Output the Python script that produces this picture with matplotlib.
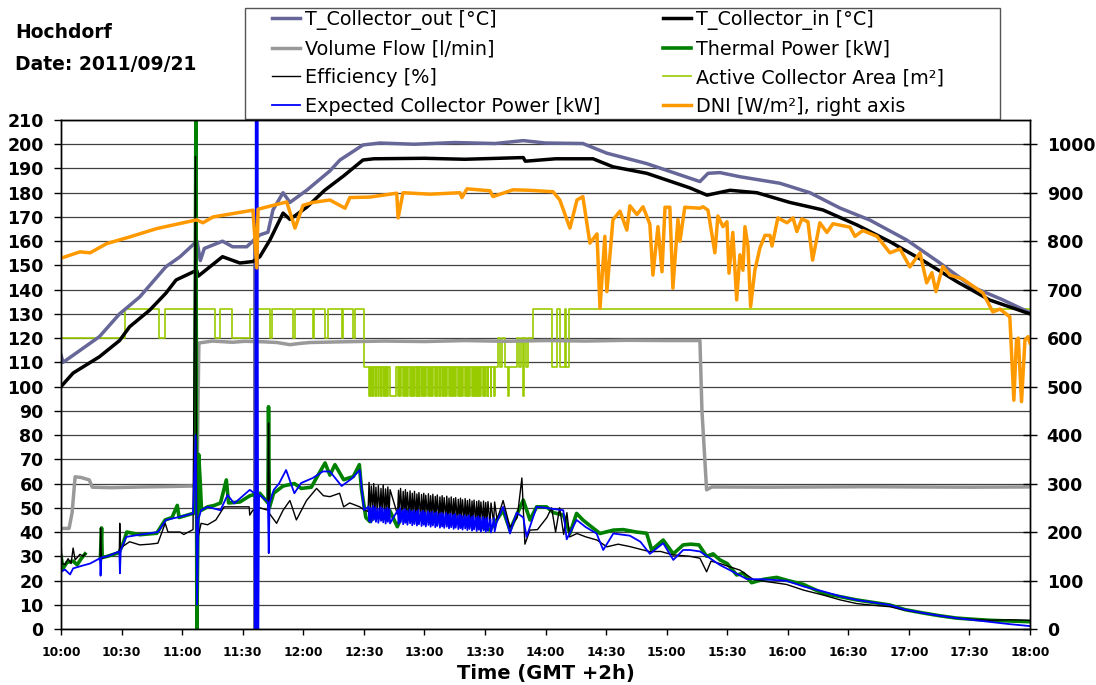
import numpy as np
import matplotlib
matplotlib.use("Agg")
import matplotlib.pyplot as plt
from matplotlib.patches import Rectangle

# ---------------- data (time = minutes after 10:00) ----------------
tout_t = [0, 1, 19, 29, 39, 52, 59, 66, 67.4, 69, 71, 80, 85, 92, 95, 96, 96.2, 96.5, 98.5, 102.5,
          105, 110, 113.4, 121.7, 133.2, 138.2, 149.6, 158, 175, 195, 215, 229, 240, 258.5, 270.4, 290.2,
          311.5, 316.5, 320.5, 326.4, 336.3, 356.1, 371, 385.8, 400.7, 418.9, 435.4, 451.7, 466, 480]
tout_v = [113, 110, 120.6, 130, 137, 149.5, 153.6, 159, 160, 152, 157, 160, 157.7, 157.7, 160, 161, 0, 161, 162.6, 163.7,
          172.9, 180, 176, 181, 189, 193.5, 199.7, 200.5, 200, 200.7, 200.3, 201.5, 200.5, 200.3, 196.3, 192,
          186, 184.6, 188, 188.3, 186.6, 183.9, 180, 173.7, 168.7, 160.5, 151, 141, 136, 130.5]

tin_t = [0, 6, 19, 29, 34, 44, 52, 57, 67.2, 68, 80, 88.6, 95, 98.5, 103.5, 110, 113.4, 121.7, 130.6, 140.1,
         149.6, 155, 180, 200, 229, 230, 245, 263.5, 273.4, 290.2, 311.5, 320, 331.4, 344.7, 361, 377.4,
         394.3, 410.6, 427, 443.8, 460.1, 480]
tin_v = [100, 105.6, 112.3, 119, 124.7, 131.6, 138.6, 144, 148, 145.6, 153.6, 151, 151.6, 153.6, 160.5, 171.6, 169, 174, 181, 187,
         193.5, 194, 194.2, 193.8, 194.5, 193, 194, 194, 190.7, 188, 182, 179, 181, 180, 176, 172.9,
         166.7, 159.8, 152, 143.3, 135.7, 130]

vf_t = [0, 4, 5.5, 7, 10, 14, 15.5, 25, 40, 55, 65.4, 67.4, 68, 68.3, 75, 85, 91, 100, 107, 113.4,
        118, 123.3, 140, 160, 180, 200, 220, 240, 260, 280, 300, 316.5, 317.5, 319.8, 322.4, 350, 400, 450, 480]
vf_v = [41.5, 41.5, 48, 62.8, 62.5, 61.5, 58.5, 58.3, 58.6, 58.8, 59, 60, 100, 118, 118.8, 118.3, 118.7, 118.5, 118.2, 117.3,
        117.8, 118.2, 118.5, 118.8, 118.6, 119, 118.7, 119, 118.8, 119.1, 119, 119, 90, 57.4, 58.6, 58.5, 58.7, 58.5, 58.6]

dni_t = [0, 9.4, 14.4, 22.6, 34.2, 47.4, 67.2, 70.3, 75.3, 95.1,
         97, 97.6, 111.8, 115.9, 119.9, 124.8, 133.2, 140.7, 143.1, 153,
         166.3, 167, 169.4, 182.8, 197.6, 198.6, 201.1, 212.5, 214, 223.9,
         232.3, 243.7, 247.1, 252.1, 255.6, 258.5, 262, 265.5, 267, 269.4,
         270.4, 273.4, 276.9, 280.3, 281.8, 285.3, 288.3, 291.7, 293.2, 295.7,
         297.7, 299.2, 301.6, 303.1, 305.6, 306.6, 309, 316.5, 318, 320.5,
         323.9, 325.4, 327.9, 329.9, 330.9, 332.8, 334.7, 336.3, 337.8, 338.8,
         340.3, 341.6, 343.7, 346.2, 348.7, 351.2, 352.2, 355.1, 359.6, 362.6,
         364.5, 367, 370, 372.3, 375.9, 379.4, 382.4, 390.8, 393.3, 397.2,
         404.2, 410.6, 415.6, 420.5, 425.5, 428.8, 431.4, 433.4, 436.8, 440.3,
         446.7, 456.7, 461.6, 465.1, 470, 472, 473.3, 474.2, 475.8, 477.5,
         479, 480]
dni_v = [765, 778, 776, 795, 809, 826, 844, 838, 850, 864,
         745, 866, 881, 827, 874, 880, 885, 868, 890, 891,
         899, 848, 900, 897, 900, 890, 908, 904, 892, 906,
         905, 902, 885, 827, 885, 892, 796, 815, 662, 810,
         696, 844, 862, 823, 873, 855, 871, 835, 730, 830,
         737, 870, 870, 703, 845, 800, 870, 868, 871, 864,
         776, 852, 830, 840, 734, 818, 679, 772, 740, 830,
         790, 665, 740, 786, 812, 812, 790, 848, 838, 848,
         820, 846, 840, 761, 838, 818, 836, 829, 810, 822,
         810, 776, 784, 747, 776, 714, 735, 696, 748, 730,
         722, 693, 654, 660, 644, 472, 596, 600, 469, 596,
         603, 590]

# active collector area: change points (steps-post)
area_pre_t = [0, 31.7, 48.7, 51.5, 76.3, 78.8, 84.5, 93.6, 103.5, 104.4, 114.9, 115.9, 124.7, 125.3,
              130.8, 132.2, 139, 139.7, 144.5, 145.6, 150.2]
area_pre_v = [120, 132, 120, 132, 120, 132, 120, 132, 120, 132, 120, 132, 120, 132,
              120, 132, 120, 132, 120, 132, 108]
# minutes at which area briefly drops to 96 m² (12:30-13:35 switching)
pulse_t = [152.4, 153.5, 154.7, 155.8, 157.0, 158.3, 159.4, 160.6, 161.7, 162.8,
           167.0, 168.0, 169.3, 170.4, 171.4, 172.7, 173.8, 174.9, 176.1, 177.1,
           178.4, 179.5, 180.5, 181.8, 182.9, 184.0, 185.2, 186.2, 187.5, 188.6,
           189.6, 190.9, 192.0, 193.1, 194.3, 195.3, 196.6, 197.7, 198.7, 200.0,
           201.1, 202.2, 203.4, 204.4, 205.7, 206.8, 207.8, 209.1, 210.2, 211.3,
           212.8, 214.6]
pulse_len = [0.45] * 9 + [3.0] + [0.45] * 42
area_post_t = [215.8, 216.4, 217.4, 218.4, 219.9, 221.4, 221.9, 225.7, 226.8, 227.8, 228.8, 229.3,
               230.3, 231.3, 233.9, 243, 245.5, 247.1, 249.6, 250.1, 251.8, 480]
area_post_v = [108, 120, 108, 120, 108, 96, 108, 120, 108, 120, 96, 120,
               108, 120, 132, 108, 132, 108, 132, 108, 132, 132]

# thermal power [kW]
tp_t = [0, 1, 3, 6, 8, 10, 11.9, 15, 19.5, 20.1, 20.4, 23, 28.7, 30.5, 32.6, 39, 47.4, 51.6, 55, 57.6,
        58.5, 65.4, 66.2, 66.8, 67.3, 68.2, 69, 69.6, 72.6, 76, 79, 81.9, 83, 88.6, 93.6, 95.8, 98.5, 102.5,
        102.8, 103.2, 105.3, 110, 115.6, 119, 124, 127, 130.8, 133.2, 135.7, 140, 144.8, 147.8, 148.8, 151,
        153, 156, 159, 162.8, 166.6, 169, 172, 176, 181.9, 186, 190, 194, 198.4, 203, 207, 212.5,
        219, 222.4, 229, 232.3, 235.6, 240.5, 244, 248.8, 252.1, 255.4, 258.5, 263.6, 267, 273.6, 278.5,
        285, 290.1, 292.6, 298.3, 303.3, 308.2, 312, 316, 319.8, 323, 326.4, 330, 334.7, 338, 342.1,
        348, 354.5, 360, 367.7, 377.6, 385, 394.1, 402, 410.6, 418, 427.1, 435, 443.6, 452, 460.1, 470, 480]
tp_v = [30, 25, 27.5, 28, 26.5, 29, 31, np.nan, 29, 41.7, 29.5, 30, 31.5, 34.7, 40, 38.9, 39.5, 45, 46, 51,
        46, 47.7, 48, 210, 0, 72, 60, 49, 50.4, 51, 52, 61.5, 52, 52.4, 55, 55.5, 56, 52,
        91.7, 50, 56, 59, 60, 58, 58.5, 63, 68.5, 63.5, 67.8, 61.6, 62.9, 67.8, 58, 46,
        44.3, 47, 45.5, 49, 42.2, 47, 49, 46, 44.9, 46.5, 44.5, 45.5, 43.6, 44.5, 42.5, 40.8,
        49, 40.8, 53.2, 45, 50.4, 50.4, 48, 47, 39.4, 47.7, 45, 41.6, 39.4, 40.8, 41,
        40, 39.5, 32.6, 36.7, 31, 34.7, 35, 34.7, 30, 31, 28.5, 27, 22.3, 23, 19.1,
        20.5, 21.3, 20, 18.4, 14.7, 13.5, 12, 11, 9.9, 8, 6.6, 5.5, 4.5, 4, 3.6, 3.3, 3]

# expected collector power [kW]
ep_pre_t = [0, 2, 4.5, 6, 10, 14.4, 19.3, 19.6, 20, 23, 28.9, 29.2, 29.6, 32.3, 39, 44, 48, 52, 59, 65.4,
            66.7, 67.4, 68, 69.4, 72.6, 79, 82.5, 85.8, 93.5, 95.9, 96.1, 96.5, 96.9, 97.3, 97.7, 98.1, 98.5,
            102.5, 102.9, 103.3, 105.4, 108, 111.5, 115.6, 118.9, 124.7, 129.7, 133.2, 139, 144, 148, 150.1]
ep_pre_v = [23.6, 24.5, 22.5, 25, 26, 27, 29.2, 22, 29.5, 30, 32, 23, 32.5, 38, 38.9, 39.5, 40, 45, 46.3, 47.7,
            80, 10, 45, 49, 50.4, 49, 55.3, 51.8, 57.4, 56, 0, 210, 0, 210, 0, 55, 55.3,
            52.4, 31.3, 52, 57.4, 60, 65.6, 56, 60.2, 62.3, 65, 65, 59, 62, 65.6, 49]
ep_hi = [50.5, 50, 50.8, 50.2, 49.6, 50.3, 49.8, 49.4, 50, 49.5, 49.2, 49.8, 49, 49.5, 48.8, 49.3, 48.6, 49,
         48.5, 49.1, 48.3, 48.8, 48.1, 48.6, 47.9, 48.4, 47.8, 48.2, 47.5, 48, 47.4, 47.9, 47.2, 47.6, 47,
         47.5, 46.8, 47.2, 46.6, 47, 46.4, 46.9, 46.2, 46.7, 46, 46.5, 45.8, 46.2, 45.6, 46, 45.4, 45.8]
ep_lo = [44.5, 44, 45, 44.2, 43.8, 44.6, 44, 43.5, 44.2, 43.6, 43.4, 44, 43.2, 43.8, 43, 43.6, 42.8, 43.3,
         42.7, 43.2, 42.5, 43, 42.3, 42.9, 42.2, 42.7, 42, 42.5, 41.8, 42.3, 41.7, 42.2, 41.5, 42, 41.3,
         41.8, 41.2, 41.6, 41, 41.5, 40.8, 41.3, 40.6, 41.1, 40.4, 40.9, 40.2, 40.7, 40, 40.5, 39.8, 40.2]
ep_post_t = [215.8, 219, 222.4, 225.7, 229, 230.6, 235.6, 240, 244, 248.8, 250.5, 255.4, 260, 265.3, 268.6,
             273.6, 281.8, 287, 291.7, 298.3, 303.3, 308.2, 311.5, 316.5, 326.4, 332, 339.7, 348, 359.3,
             368, 377.6, 386, 394.1, 402, 410.6, 418, 427.1, 435, 443.6, 452, 460.1, 470, 480]
ep_post_v = [44, 50.4, 39.4, 48, 46, 38, 50.4, 50, 49.5, 49, 37, 45, 42, 39.4, 32.6,
             39.4, 38.5, 36, 31, 35.4, 28.5, 32.6, 32.6, 32, 26.4, 24, 20.6, 20.5, 19.9,
             17.5, 15.5, 13.5, 12, 11, 9.9, 8, 6.6, 5.5, 4.5, 3.7, 2.9, 2, 1.2]

# efficiency [%]
ef_pre_t = [0, 0.5, 2, 3.5, 5, 6, 7, 9.4, 11, 12, 15, 19.4, 19.6, 20, 23, 28.9, 29.1, 29.4, 34, 39, 44,
            48, 51.6, 53, 59, 60.8, 65.4, 66.6, 67.2, 69.4, 72.6, 76.7, 80.8, 85, 93.2, 93.5, 95, 98.5,
            102.5, 102.8, 103.2, 106.8, 110, 113.4, 116.6, 121.6, 126.6, 130, 133.2, 138, 140, 143, 148, 150.5]
ef_pre_v = [36.7, 27, 26.6, 29, 27, 33.4, 28.5, 30.8, 30, 31, np.nan, 29, 41.7, 29, 30, 32, 43.6, 33.4, 36, 34.7, 35,
            35.4, 43.6, 40, 40, 39, 41, 195, 35.4, 43.6, 43, 45, 50.4, 50.4, 50.4, 47, 49, 50,
            49, 85, 47.7, 43.6, 49, 53, 45, 53, 58, 55, 54.6, 56, 50.4, 52, 50.4, 49]
ef_peak = [60.5, 59, 60, 58.5, 59.2, 58, 59.5, 57.8, 58.6, 57.5, 57.2, 58, 56.8, 57.5, 56.4, 57, 56, 56.8,
           55.7, 56.3, 55.5, 56, 55.2, 55.8, 55, 55.6, 54.7, 55.3, 54.5, 55, 54.2, 54.8, 54, 54.5, 53.8,
           54.2, 53.5, 54, 53.3, 53.8, 53, 53.5, 52.8, 53.2, 52.6, 53, 52.4, 52.8, 52.2, 52.6, 52, 52.4]
ef_base = [48.5, 48, 48.8, 48.2, 47.6, 48.3, 47.8, 47.4, 48, 47.5, 47.2, 47.8, 47, 47.5, 46.8, 47.3, 46.6, 47,
           46.5, 47.1, 46.3, 46.8, 46.1, 46.6, 45.9, 46.4, 45.8, 46.2, 45.5, 46, 45.4, 45.9, 45.2, 45.6, 45,
           45.5, 44.8, 45.2, 44.6, 45, 44.4, 44.9, 44.2, 44.7, 44, 44.5, 43.8, 44.2, 43.6, 44, 43.4, 43.8]
ef_post_t = [216, 219, 222.4, 226, 228.3, 229.8, 232.3, 236, 240.7, 243, 245, 247, 249, 250.6, 252, 255.6,
             260, 265.5, 270.4, 276, 281.8, 291.7, 297, 303, 311.5, 316.5, 319.8, 322, 326.4, 336.3, 343,
             350, 359.3, 368, 377.6, 386, 394.1, 402, 410.6, 418, 427.1, 435, 443.6, 452, 460.1, 470, 480]
ef_post_v = [45, 53, 42, 46, 62.3, 35, 40.8, 41, 46, 50, 40, 50, 39, 48, 38, 39.4,
             38, 36.7, 33.9, 35, 34, 31.9, 32, 30.6, 30, 29.2, 23.6, 28, 27, 24.3, 20.4,
             19.5, 18.4, 16, 14, 12, 10.5, 9.8, 9.2, 7.8, 6.6, 5.5, 4.5, 4, 3.6, 3.8, 3.6]

x_ticks = list(range(0, 481, 30))
x_labels = ["10:00", "10:30", "11:00", "11:30", "12:00", "12:30", "13:00", "13:30", "14:00",
            "14:30", "15:00", "15:30", "16:00", "16:30", "17:00", "17:30", "18:00"]

# ---------------- assemble series ----------------
area_t, area_v = list(area_pre_t), list(area_pre_v)
for p, w in zip(pulse_t, pulse_len):
    area_t += [p, p + w]
    area_v += [96, 108]
area_t += area_post_t
area_v += area_post_v

ep_t, ep_v = list(ep_pre_t), list(ep_pre_v)
for p, hi, lo in zip(pulse_t, ep_hi, ep_lo):
    ep_t += [p - 0.05, p + 0.2]
    ep_v += [hi, lo]
ep_t += ep_post_t
ep_v += ep_post_v

ef_t, ef_v = list(ef_pre_t), list(ef_pre_v)
for p, pk, bs in zip(pulse_t, ef_peak, ef_base):
    ef_t += [p - 0.3, p + 0.2]
    ef_v += [bs, pk]
ef_t += ef_post_t
ef_v += ef_post_v

# ---------------- figure ----------------
W, H = 1096, 685
fig = plt.figure(figsize=(W / 100, H / 100), dpi=100)
L, R, T, B = 61, 1030, 120, 629
ax = fig.add_axes([L / W, 1 - B / H, (R - L) / W, (B - T) / H])

ax.set_xlim(0, 480)
ax.set_ylim(0, 210)
ax.set_yticks(range(0, 211, 10))
ax.set_xticks(x_ticks)
ax.set_xticklabels(x_labels)
ax.grid(axis="y", color="#404040", lw=0.9)
ax.set_axisbelow(True)

c_out, c_in, c_vf, c_tp = "#666699", "#000000", "#999999", "#008000"
c_ef, c_area, c_ep, c_dni = "#000000", "#99cc00", "#0000ff", "#ff9900"

h_area, = ax.step(area_t, area_v, where="post", color=c_area, lw=1.2, label="Active Collector Area [m²]")
h_vf, = ax.plot(vf_t, vf_v, color=c_vf, lw=2.5, label="Volume Flow [l/min]")
h_out, = ax.plot(tout_t, tout_v, color=c_out, lw=2.5, label="T_Collector_out [°C]")
h_in, = ax.plot(tin_t, tin_v, color=c_in, lw=2.5, label="T_Collector_in [°C]")
h_tp, = ax.plot(tp_t, tp_v, color=c_tp, lw=2.6, label="Thermal Power [kW]")
h_ef, = ax.plot(ef_t, ef_v, color=c_ef, lw=1.0, label="Efficiency [%]")
h_ep, = ax.plot(ep_t, ep_v, color=c_ep, lw=1.3, label="Expected Collector Power [kW]")

ax2 = ax.twinx()
ax2.set_ylim(0, 1050)
ax2.set_yticks(range(0, 1001, 100))
h_dni, = ax2.plot(dni_t, dni_v, color=c_dni, lw=2.5, label="DNI [W/m²], right axis")

for a in (ax, ax2):
    for s in a.spines.values():
        s.set_color("black")
        s.set_linewidth(1.0)

ax.tick_params(axis="y", direction="out", length=5, width=1, pad=7.5, labelsize=12.5)
ax.tick_params(axis="x", direction="out", length=4, width=1, pad=8, labelsize=8.8)
ax2.tick_params(axis="y", direction="inout", length=10, width=1, pad=7, labelsize=12.5)
for lab in ax.get_yticklabels() + ax.get_xticklabels() + ax2.get_yticklabels():
    lab.set_fontweight("bold")

ax.set_xlabel("Time (GMT +2h)", fontsize=14, fontweight="bold", labelpad=4)

fig.text(15 / W, 1 - 33 / H, "Hochdorf", fontsize=13.5, fontweight="bold", va="center", ha="left")
fig.text(15 / W, 1 - 64 / H, "Date: 2011/09/21", fontsize=13.5, fontweight="bold", va="center", ha="left")

handles = [h_out, h_vf, h_ef, h_ep, h_in, h_tp, h_area, h_dni]
fig.legend(handles, [h.get_label() for h in handles], loc="upper left",
           bbox_to_anchor=(272 / W, 1 - 10 / H), ncol=2, frameon=False, fontsize=13.8,
           handlelength=1.45, handletextpad=0.25, columnspacing=3.3, borderpad=0,
           borderaxespad=0, labelspacing=0.5)
fig.patches.append(Rectangle((245 / W, 1 - 119 / H), (1000 - 245) / W, (119 - 8) / H,
                             transform=fig.transFigure, fill=True, facecolor="white",
                             edgecolor="#555555", lw=1.0, zorder=-1))

fig.savefig("out.png", dpi=100)
